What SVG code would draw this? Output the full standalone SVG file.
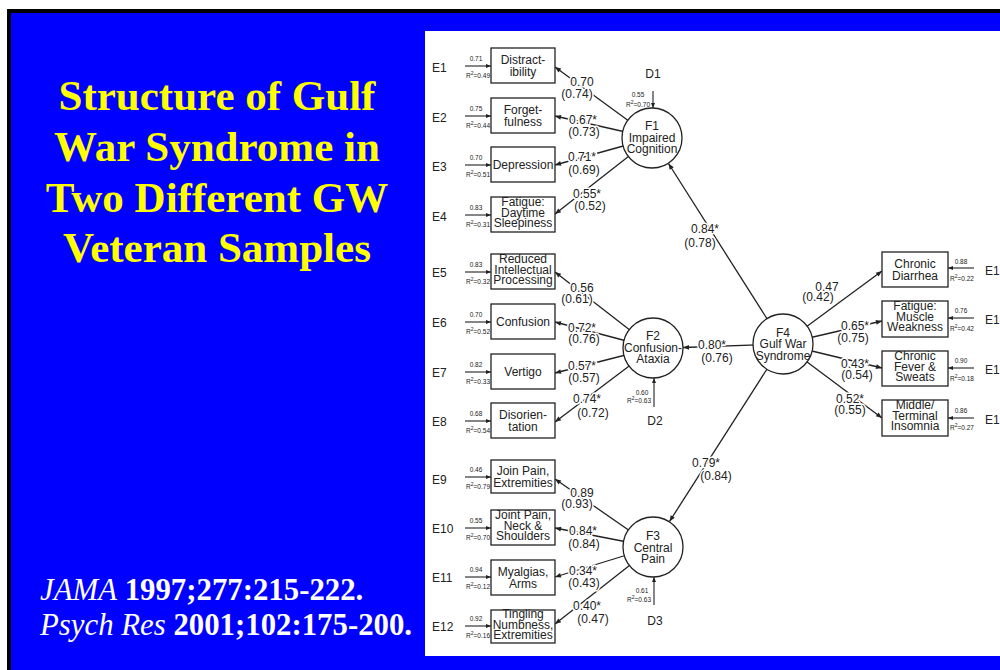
<svg xmlns="http://www.w3.org/2000/svg" width="1000" height="670" viewBox="0 0 1000 670">
<style>
.bx{fill:#fff;stroke:#222;stroke-width:1.3}
.fc{fill:#fff;stroke:#222;stroke-width:1.3}
.t{font-family:"Liberation Sans",Arial,sans-serif;font-size:12px;fill:#222;text-anchor:middle}
.e{font-family:"Liberation Sans",Arial,sans-serif;font-size:12px;fill:#222}
.s{font-family:"Liberation Sans",Arial,sans-serif;font-size:6.5px;fill:#222}
.m{text-anchor:middle}
.r{text-anchor:end}
.sup{font-size:5px;baseline-shift:super}
.ln{stroke:#222;stroke-width:1.3;fill:none;marker-end:url(#ah)}
.sm{stroke:#222;stroke-width:1.1;fill:none;marker-end:url(#ahs)}
.lab{paint-order:stroke;stroke:#fff;stroke-width:3px;stroke-linejoin:round}
.title{font-family:"Liberation Serif","Times New Roman",serif;font-weight:bold;font-size:43px;fill:#ffff00;text-anchor:middle}
.cite{font-family:"Liberation Serif","Times New Roman",serif;font-weight:bold;font-size:30.8px;fill:#fff}
.it{font-style:italic;font-weight:normal}
</style>
<defs>
<marker id="ah" viewBox="0 0 10 10" refX="10" refY="5" markerWidth="7" markerHeight="6" orient="auto" markerUnits="userSpaceOnUse"><path d="M0,1 L10,5 L0,9 z" fill="#222"/></marker>
<marker id="ahs" viewBox="0 0 10 10" refX="10" refY="5" markerWidth="5" markerHeight="5" orient="auto" markerUnits="userSpaceOnUse"><path d="M0,1 L10,5 L0,9 z" fill="#222"/></marker>
</defs>
<rect x="0" y="0" width="1000" height="670" fill="#fff"/>
<rect x="7" y="9" width="993" height="661" fill="#000"/>
<rect x="11" y="13" width="989" height="657" fill="#0000ff"/>
<rect x="425" y="31" width="575" height="625" fill="#fff"/>

<g id="title">
<text class="title" x="217" y="110">Structure of Gulf</text>
<text class="title" x="217" y="161">War Syndrome in</text>
<text class="title" x="217" y="212">Two Different GW</text>
<text class="title" x="217" y="262">Veteran Samples</text>
</g>
<g id="citations">
<text class="cite" x="40" y="600"><tspan class="it">JAMA</tspan> 1997;277:215-222.</text>
<text class="cite" x="40" y="635"><tspan class="it">Psych Res</tspan> 2001;102:175-200.</text>
</g>

<g id="connectors">
<line class="ln" x1="652" y1="138" x2="555" y2="67"/>
<line class="ln" x1="652" y1="138" x2="555" y2="116"/>
<line class="ln" x1="652" y1="138" x2="555" y2="165"/>
<line class="ln" x1="652" y1="138" x2="555" y2="214"/>
<line class="ln" x1="653" y1="348" x2="555" y2="272"/>
<line class="ln" x1="653" y1="348" x2="555" y2="322"/>
<line class="ln" x1="653" y1="348" x2="555" y2="373"/>
<line class="ln" x1="653" y1="348" x2="555" y2="422"/>
<line class="ln" x1="653" y1="547" x2="555" y2="479"/>
<line class="ln" x1="653" y1="547" x2="555" y2="528"/>
<line class="ln" x1="653" y1="547" x2="555" y2="577"/>
<line class="ln" x1="653" y1="547" x2="555" y2="624"/>
<line class="ln" x1="783" y1="344" x2="668.5" y2="163.5"/>
<line class="ln" x1="783" y1="344" x2="683" y2="347.5"/>
<line class="ln" x1="783" y1="344" x2="669.5" y2="521.5"/>
<line class="ln" x1="783" y1="344" x2="882" y2="271"/>
<line class="ln" x1="783" y1="344" x2="882" y2="321"/>
<line class="ln" x1="783" y1="344" x2="882" y2="368"/>
<line class="ln" x1="783" y1="344" x2="882" y2="418"/>
<g class="t lab">
<text x="582" y="86">0.70</text><text x="577" y="98">(0.74)</text>
<text x="583" y="124">0.67*</text><text x="584" y="136">(0.73)</text>
<text x="582" y="161">0.71*</text><text x="584" y="174">(0.69)</text>
<text x="587" y="198">0.55*</text><text x="590" y="210">(0.52)</text>
<text x="582" y="292">0.56</text><text x="577" y="303">(0.61)</text>
<text x="582" y="332">0.72*</text><text x="584" y="343">(0.76)</text>
<text x="582" y="370">0.57*</text><text x="584" y="382">(0.57)</text>
<text x="587" y="403">0.74*</text><text x="593" y="417">(0.72)</text>
<text x="582" y="497">0.89</text><text x="577" y="508">(0.93)</text>
<text x="583" y="535">0.84*</text><text x="584" y="548">(0.84)</text>
<text x="583" y="575">0.34*</text><text x="584" y="587">(0.43)</text>
<text x="587" y="610">0.40*</text><text x="593" y="623">(0.47)</text>
<text x="705" y="233">0.84*</text><text x="700" y="247">(0.78)</text>
<text x="712" y="349">0.80*</text><text x="717" y="362">(0.76)</text>
<text x="706" y="467">0.79*</text><text x="716" y="480">(0.84)</text>
<text x="827" y="291">0.47</text><text x="818" y="301">(0.42)</text>
<text x="855" y="330">0.65*</text><text x="853" y="342">(0.75)</text>
<text x="855" y="368">0.43*</text><text x="857" y="379">(0.54)</text>
<text x="850" y="403">0.52*</text><text x="850" y="414">(0.55)</text>
</g>
</g>

<g id="F1">
<circle class="fc" cx="652" cy="138" r="30"/>
<text class="t" x="652" y="130">F1</text><text class="t" x="652" y="141.5">Impaired</text><text class="t" x="652" y="153">Cognition</text>
<text class="e m" x="653" y="78">D1</text>
<line class="sm" x1="653" y1="91" x2="653" y2="108"/>
<text class="s m" x="638" y="97">0.55</text><text class="s r" x="650" y="107">R<tspan class="sup">2</tspan>=0.70</text>
</g>
<g id="F2">
<circle class="fc" cx="653" cy="348" r="30"/>
<text class="t" x="653" y="340">F2</text><text class="t" x="653" y="351.5">Confusion-</text><text class="t" x="653" y="363">Ataxia</text>
<text class="e m" x="655" y="425">D2</text>
<line class="sm" x1="654" y1="407" x2="654" y2="378"/>
<text class="s m" x="642" y="395">0.60</text><text class="s r" x="651" y="403">R<tspan class="sup">2</tspan>=0.63</text>
</g>
<g id="F3">
<circle class="fc" cx="653" cy="547" r="30"/>
<text class="t" x="653" y="540">F3</text><text class="t" x="653" y="551.5">Central</text><text class="t" x="653" y="563">Pain</text>
<text class="e m" x="655" y="625">D3</text>
<line class="sm" x1="654" y1="605" x2="654" y2="577"/>
<text class="s m" x="642" y="593">0.61</text><text class="s r" x="651" y="602">R<tspan class="sup">2</tspan>=0.63</text>
</g>
<g id="F4">
<circle class="fc" cx="783" cy="344" r="30"/>
<text class="t" x="783" y="336.5">F4</text><text class="t" x="783" y="348">Gulf War</text><text class="t" x="783" y="359.5">Syndrome</text>
</g>

<g id="V1"><rect class="bx" x="491" y="48" width="64" height="35"/>
<text class="t" x="523" y="64">Distract-</text><text class="t" x="523" y="75.5">ibility</text>
<text class="e" x="432" y="72">E1</text><line class="sm" x1="465" y1="66" x2="491" y2="66"/>
<text class="s m" x="476" y="61">0.71</text><text class="s r" x="490" y="78">R<tspan class="sup">2</tspan>=0.49</text></g>
<g id="V2"><rect class="bx" x="491" y="98" width="64" height="35"/>
<text class="t" x="523" y="114">Forget-</text><text class="t" x="523" y="125.5">fulness</text>
<text class="e" x="432" y="122">E2</text><line class="sm" x1="465" y1="116" x2="491" y2="116"/>
<text class="s m" x="476" y="111">0.75</text><text class="s r" x="490" y="128">R<tspan class="sup">2</tspan>=0.44</text></g>
<g id="V3"><rect class="bx" x="491" y="147" width="64" height="35"/>
<text class="t" x="523" y="169">Depression</text>
<text class="e" x="432" y="171">E3</text><line class="sm" x1="465" y1="165" x2="491" y2="165"/>
<text class="s m" x="476" y="160">0.70</text><text class="s r" x="490" y="177">R<tspan class="sup">2</tspan>=0.51</text></g>
<g id="V4"><rect class="bx" x="491" y="197" width="64" height="35"/>
<text class="t" x="523" y="206">Fatigue:</text><text class="t" x="523" y="216.5">Daytime</text><text class="t" x="523" y="227">Sleepiness</text>
<text class="e" x="432" y="221">E4</text><line class="sm" x1="465" y1="215" x2="491" y2="215"/>
<text class="s m" x="476" y="210">0.83</text><text class="s r" x="490" y="227">R<tspan class="sup">2</tspan>=0.31</text></g>
<g id="V5"><rect class="bx" x="491" y="254" width="64" height="35"/>
<text class="t" x="523" y="263">Reduced</text><text class="t" x="523" y="273.5">Intellectual</text><text class="t" x="523" y="284">Processing</text>
<text class="e" x="432" y="277">E5</text><line class="sm" x1="465" y1="272" x2="491" y2="272"/>
<text class="s m" x="476" y="267">0.83</text><text class="s r" x="490" y="284">R<tspan class="sup">2</tspan>=0.32</text></g>
<g id="V6"><rect class="bx" x="491" y="304" width="64" height="35"/>
<text class="t" x="523" y="326">Confusion</text>
<text class="e" x="432" y="327">E6</text><line class="sm" x1="465" y1="322" x2="491" y2="322"/>
<text class="s m" x="476" y="317">0.70</text><text class="s r" x="490" y="334">R<tspan class="sup">2</tspan>=0.52</text></g>
<g id="V7"><rect class="bx" x="491" y="354" width="64" height="35"/>
<text class="t" x="523" y="376">Vertigo</text>
<text class="e" x="432" y="377">E7</text><line class="sm" x1="465" y1="372" x2="491" y2="372"/>
<text class="s m" x="476" y="367">0.82</text><text class="s r" x="490" y="384">R<tspan class="sup">2</tspan>=0.33</text></g>
<g id="V8"><rect class="bx" x="491" y="403" width="64" height="35"/>
<text class="t" x="523" y="419">Disorien-</text><text class="t" x="523" y="430.5">tation</text>
<text class="e" x="432" y="426">E8</text><line class="sm" x1="465" y1="421" x2="491" y2="421"/>
<text class="s m" x="476" y="416">0.68</text><text class="s r" x="490" y="433">R<tspan class="sup">2</tspan>=0.54</text></g>
<g id="V9"><rect class="bx" x="491" y="460" width="64" height="33"/>
<text class="t" x="523" y="475">Join Pain,</text><text class="t" x="523" y="486.5">Extremities</text>
<text class="e" x="432" y="484">E9</text><line class="sm" x1="465" y1="477" x2="491" y2="477"/>
<text class="s m" x="476" y="472">0.46</text><text class="s r" x="490" y="489">R<tspan class="sup">2</tspan>=0.79</text></g>
<g id="V10"><rect class="bx" x="491" y="510" width="64" height="35"/>
<text class="t" x="523" y="519">Joint Pain,</text><text class="t" x="523" y="529.5">Neck &amp;</text><text class="t" x="523" y="540">Shoulders</text>
<text class="e" x="432" y="533">E10</text><line class="sm" x1="465" y1="528" x2="491" y2="528"/>
<text class="s m" x="476" y="523">0.55</text><text class="s r" x="490" y="540">R<tspan class="sup">2</tspan>=0.70</text></g>
<g id="V11"><rect class="bx" x="491" y="560" width="64" height="35"/>
<text class="t" x="523" y="576">Myalgias,</text><text class="t" x="523" y="587.5">Arms</text>
<text class="e" x="432" y="582">E11</text><line class="sm" x1="465" y1="577" x2="491" y2="577"/>
<text class="s m" x="476" y="572">0.94</text><text class="s r" x="490" y="589">R<tspan class="sup">2</tspan>=0.12</text></g>
<g id="V12"><rect class="bx" x="491" y="610" width="64" height="33"/>
<text class="t" x="523" y="618">Tingling</text><text class="t" x="523" y="628.5">Numbness,</text><text class="t" x="523" y="639">Extremities</text>
<text class="e" x="432" y="631">E12</text><line class="sm" x1="465" y1="626" x2="491" y2="626"/>
<text class="s m" x="476" y="621">0.92</text><text class="s r" x="490" y="638">R<tspan class="sup">2</tspan>=0.16</text></g>

<g id="V13"><rect class="bx" x="882" y="252" width="66" height="35"/>
<text class="t" x="915" y="268">Chronic</text><text class="t" x="915" y="279.5">Diarrhea</text>
<text class="e" x="985" y="275">E13</text><line class="sm" x1="974" y1="268" x2="948" y2="268"/>
<text class="s m" x="961" y="264">0.88</text><text class="s" x="950" y="281">R<tspan class="sup">2</tspan>=0.22</text></g>
<g id="V14"><rect class="bx" x="882" y="301" width="66" height="36"/>
<text class="t" x="915" y="310">Fatigue:</text><text class="t" x="915" y="320.5">Muscle</text><text class="t" x="915" y="331">Weakness</text>
<text class="e" x="985" y="324">E14</text><line class="sm" x1="974" y1="318" x2="948" y2="318"/>
<text class="s m" x="961" y="313">0.76</text><text class="s" x="950" y="331">R<tspan class="sup">2</tspan>=0.42</text></g>
<g id="V15"><rect class="bx" x="882" y="351" width="66" height="35"/>
<text class="t" x="915" y="360">Chronic</text><text class="t" x="915" y="370.5">Fever &amp;</text><text class="t" x="915" y="381">Sweats</text>
<text class="e" x="985" y="374">E15</text><line class="sm" x1="974" y1="368" x2="948" y2="368"/>
<text class="s m" x="961" y="363">0.90</text><text class="s" x="950" y="381">R<tspan class="sup">2</tspan>=0.18</text></g>
<g id="V16"><rect class="bx" x="882" y="400" width="66" height="36"/>
<text class="t" x="915" y="409">Middle/</text><text class="t" x="915" y="419.5">Terminal</text><text class="t" x="915" y="430">Insomnia</text>
<text class="e" x="985" y="424">E16</text><line class="sm" x1="974" y1="418" x2="948" y2="418"/>
<text class="s m" x="961" y="413">0.86</text><text class="s" x="950" y="430">R<tspan class="sup">2</tspan>=0.27</text></g>
</svg>
